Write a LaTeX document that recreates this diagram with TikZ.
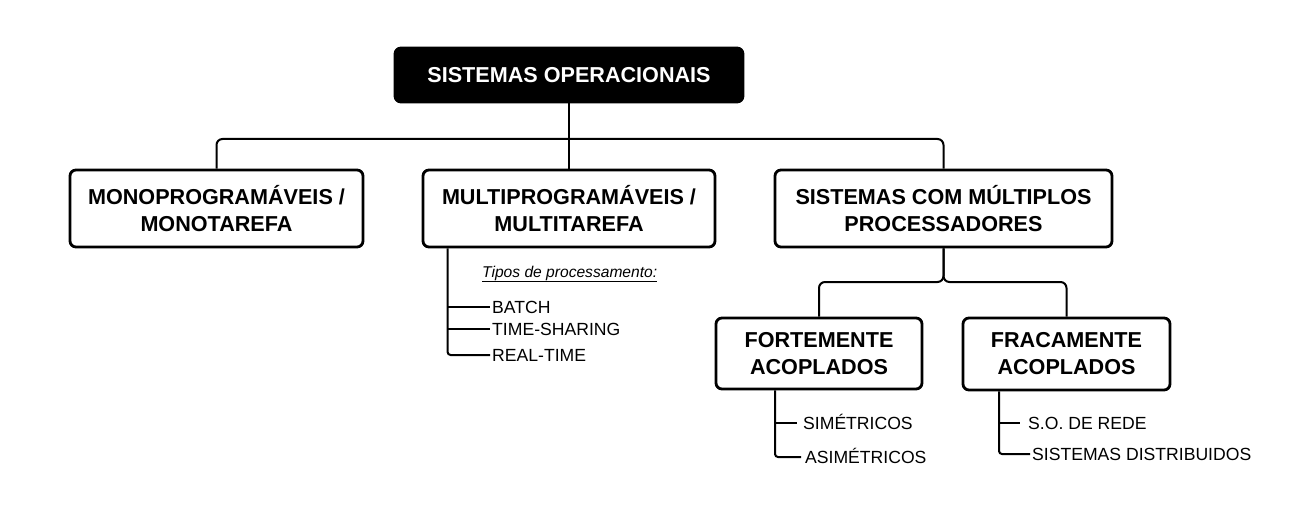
\documentclass[tikz,border=0pt]{standalone}
\usepackage{fontspec}
\setmainfont{Liberation Sans}

\tikzset{
  box/.style={draw, line width=2.8pt, rounded corners=6pt, align=center, inner sep=0pt,
    font=\bfseries\fontsize{21.6}{27}\selectfont},
  conn/.style={line width=2pt, rounded corners=6pt},
  item/.style={anchor=west, inner sep=0pt, text height=12.6pt, text depth=0pt,
    font=\fontsize{17.6}{20}\selectfont},
}

\begin{document}
\begin{tikzpicture}[x=1pt, y=-1pt]
    \useasboundingbox (0,0) rectangle (1309,516);

    % Boxes
    \node[box, fill=black, text=white, minimum width=348, minimum height=54] (so) at (569,75) {SISTEMAS OPERACIONAIS};
    \node[box, minimum width=293, minimum height=77] (mono) at (216.5,208.5) {MONOPROGRAMÁVEIS /\\MONOTAREFA};
    \node[box, minimum width=292, minimum height=77] (multi) at (569,208.5) {MULTIPROGRAMÁVEIS /\\MULTITAREFA};
    \node[box, minimum width=337, minimum height=77] (multiproc) at (943.5,208.5) {SISTEMAS COM MÚLTIPLOS\\PROCESSADORES};
    \node[box, minimum width=206, minimum height=71] (forte) at (819,353.5) {FORTEMENTE\\ACOPLADOS};
    \node[box, minimum width=207, minimum height=72] (fraca) at (1066.5,354) {FRACAMENTE\\ACOPLADOS};

    % Connectors between boxes
    \coordinate (top) at (569,139);
    \draw[conn] (so.south) -- (multi.north);
    \draw[conn] (top) -| (mono.north);
    \draw[conn] (top) -| (multiproc.north);
    \coordinate (split) at (943.5,282);
    \draw[conn] (multiproc.south) -- (split) -| (forte.north);
    \draw[conn] (multiproc.south) -- (split) -| (fraca.north);

    % Tipos de processamento
    \node[anchor=base west, inner sep=0pt, font=\itshape\fontsize{15.6}{18}\selectfont] (tipos) at (482,277) {\underline{Tipos de processamento:}};
    \node[item, inner xsep=2pt] (batch) at (490,307) {BATCH};
    \node[item, inner xsep=2pt] (tshare) at (490,329) {TIME-SHARING};
    \node[item, inner xsep=2pt] (rtime) at (490,355) {REAL-TIME};
    \coordinate (mt) at ([xshift=26]multi.south west);
    \draw[conn, rounded corners=3pt] (mt) |- (rtime.west);
    \draw[conn] (mt |- batch.west) -- (batch.west);
    \draw[conn] (mt |- tshare.west) -- (tshare.west);

    % Fortemente acoplados
    \node[item, inner xsep=6pt] (sim) at (797,423) {SIMÉTRICOS};
    \node[item, inner xsep=4pt] (asim) at (801,457) {ASIMÉTRICOS};
    \coordinate (ft) at ([xshift=-44]forte.south);
    \draw[conn, rounded corners=3pt] (ft) |- (asim.west);
    \draw[conn] (ft |- sim.west) -- (sim.west);

    % Fracamente acoplados
    \node[item, inner xsep=8pt] (rede) at (1020,423) {S.O. DE REDE};
    \node[item, inner xsep=2pt] (distr) at (1030,454) {SISTEMAS DISTRIBUIDOS};
    \coordinate (fr) at ([xshift=-67.5]fraca.south);
    \draw[conn, rounded corners=3pt] (fr) |- (distr.west);
    \draw[conn] (fr |- rede.west) -- (rede.west);
\end{tikzpicture}
\end{document}
